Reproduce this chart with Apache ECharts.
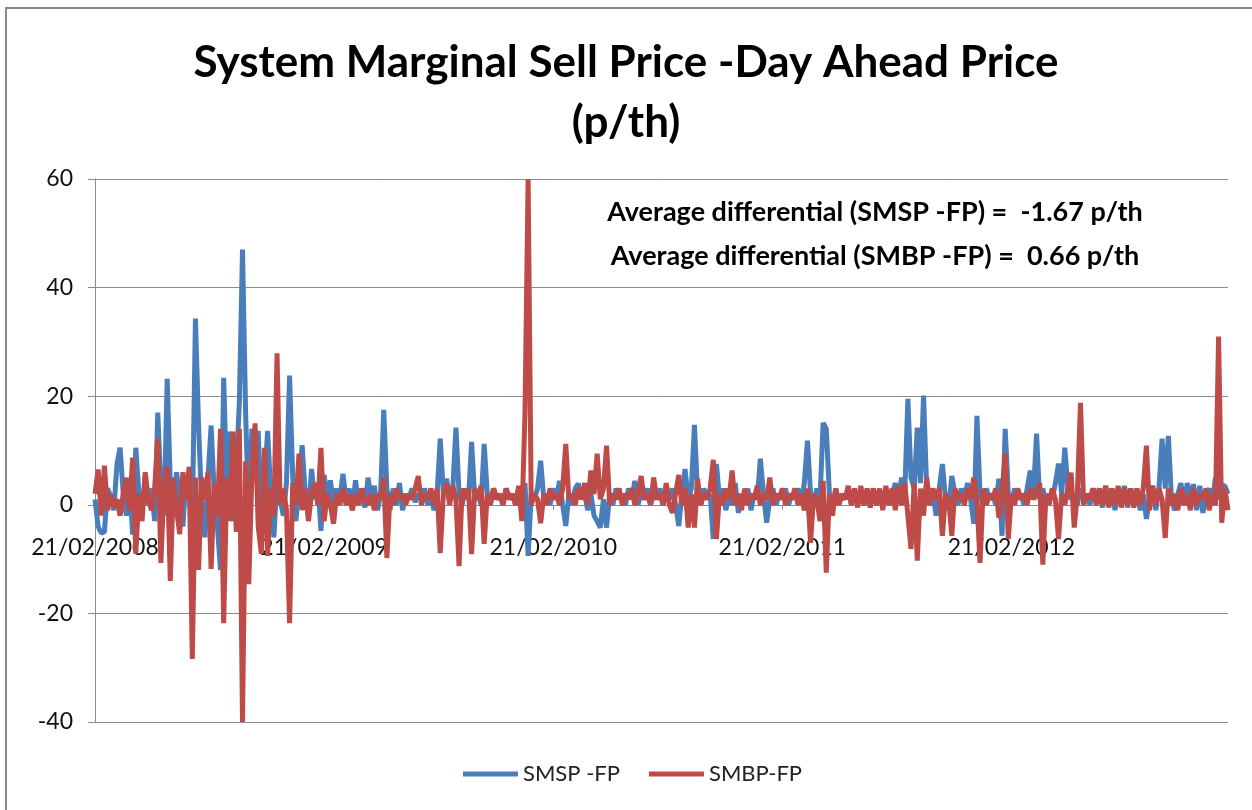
<!DOCTYPE html>
<html>
<head>
<meta charset="utf-8">
<script src="https://cdn.jsdelivr.net/npm/echarts@6/dist/echarts.min.js"></script>
<style>
  html, body { margin: 0; padding: 0; background: #fff; }
  #chart { width: 1252px; height: 810px; }
</style>
</head>
<body>
<div id="chart"></div>
<script>
// one sample every 5 days, starting 21/02/2008 (73 samples ~ 1 year)
var tickLabels = ['21/02/2008', '21/02/2009', '21/02/2010', '21/02/2011', '21/02/2012'];
var samplesPerYear = 73;

// SMSP - FP (p/th)
var smsp = [
  1,-4,-5.2,-5,3,1.5,-1,7.5,10.5,2,-2,4,-5.5,10.5,2,-1,5,0,3,-3,
  17,3,-2,23.2,4,-1,6,1,-4,5,2,-3,34.3,14.6,0,-6,5,14.6,2,-4,
  -12,23.4,3,13.5,-3,6,19,47,16.8,-3,14,5,13.6,-2,4,13.6,2,-6,5,1,
  -2,4,23.8,5,-3,3,11,2,-2,6.6,1,4,-4.8,5.5,1,4.5,0,3,1,5.7,
  1,3,-1,4.5,0,3,-0.5,5,1,3.5,-1,2,17.5,3,-1,3,0,4,-1,2,
  1,3,0.5,2,1,3,0,2,-1,2,12.2,2,4.8,1,3,14.2,2,0,3,1,
  11.6,1,2,0,11.2,2,0.5,3,1,2,0,3,1,2,0,3,1,4,-9.4,2,
  1,3,8.1,1,2,0,3,1,4.4,0,-3.9,2,0,3,3.9,1,2,-1,2,-2,
  -3,-4.2,1,-4.2,2,0,3,1,2,0,3,1,4.4,0,2,1,3,0,2,1,
  3,0,2,1,3,0,-3.9,2,6.6,1,3,14.7,2,0,3,1,2,-6.3,7.5,1,
  3,-1,2,0,4,-1.5,2,0,3,-1,2,1,8.5,2,-3.3,1,3,0,2,1,
  3,0,2,1,3,0,4,11.8,2,0,3,1,15.1,14,2,-1,3,0,2,1,
  3,0,2,1,3,0,2,1,3,0,2,1,3,0,2,4,1,5,2,19.5,
  5,3,14.2,4,20.1,3,0,2,-2,3,7.5,1,-1,5.3,2,0,3,1,4,1,
  -3.5,16.4,2,0,3,1,2,0,4.8,-5.7,14,2,0,3,1,2,0,3,6.3,2,
  13.1,1,3,0,2,1,4,7.6,2,10.5,3,1,2,0,3,1,2,0,3,1,
  3,-0.5,3.5,0,3,-1,3,0,3.5,-0.5,3,0,3,-1,2,-2.6,1,3.5,-1,3,
  12.2,3,12.7,1,-1,2,4,0,4,1,3.8,-1,3.5,-1.5,2,3,0,5,1,3.5,3.5,2
];

// SMBP - FP (p/th)
var smbp = [
  2,6.5,-2,7.2,-1,2,-0.5,1,-2,2,5,-1,8.7,-9,2,-3,6,1,-1,3,
  12.2,-10.7,4,7,-14,5,-1,-5.4,6,1,7,-28.4,5,-12,5,1,6,-11.8,4,-2,
  14,-21.8,5,-3,13.5,-5,14,-40,8,-14.6,6,15,-4,-9,10.5,-9.4,3,-2,27.9,0,
  3,-1,-21.8,4,0,9.4,-1,3,-3,2,4,0,10.5,-3,2,0,-3.5,2,0,3,
  0,2,-1,2,0,3,1,0,2,-1,2,1,5,-9.8,2,0,3,1,2,0,
  2,1,3,5.3,0,2,1,3,0,3,-8.9,2,4,0,3.5,1,-11.3,3,1,3,
  -9.1,3,1,3.5,-7.2,2,0,3,1,2,0,3,1,2,0,3.5,-3,16.8,60,0,
  2,1,-3.4,2,0,3,1,2,0,3,11.2,1,2,0,3,1,4,0,6.3,2,
  9.4,1,3,10.9,0,2,1,3,0,2,1,3,0,2,5.3,1,2,0,5,1,
  2,0,4,0,-1.5,2,5.5,0,3,-4.2,2,-4.2,4.8,0,2,1,3,8.3,-6.3,2,
  0,3,1,6.3,0,2,-1,3,0,2,1,3.5,0,2,1,5,0,2,1,3,
  0,2,1,3,0,2,-1,3,-7,2,1,-3,4.4,-12.5,2,-2,3,0,2,1,
  3.5,0,3,-0.5,3.5,0,3,-0.5,3,0,3,-1,3.5,0,3,-1,3.5,0,4,-2,
  -8.1,4,-10.3,3,-2,5,0,3,1,3,-5.7,2,1,-5.7,3,1,2,0,3,1,
  5,1,-10.7,3,0,2,1,3,-2.4,2,9.4,-6.3,2,0,3,1,2,0,3,1,
  2,4,-11,2,0,3,1,-6.3,2,0,3,5.9,-4.2,2,18.8,0,2,1,3,0,
  3,0,3.5,-0.5,3,0,3.5,-0.5,3.2,0,3,-0.5,3,0,3,10.9,-1,3.5,0,3,
  1,-6.1,3,0,2,-1,3,0,2,-1,3,0,2,1,3,-1,2,0,31,-3.3,3,-1
];

var notes = [
  'Average differential (SMSP -FP) =  -1.67 p/th',
  'Average differential (SMBP -FP) =  0.66 p/th'
];

var categories = [];
for (var i = 0; i < smsp.length; i++) categories.push(String(i));

function isYearTick(idx) {
  return idx % samplesPerYear === 0 && idx / samplesPerYear < tickLabels.length;
}

var font = 'Lato, "Open Sans", sans-serif';
var gridColor = '#8c8c8c';
var yMin = -40, yMax = 60;
var gridTop = 179, gridBottom = 88;
// the category axis crosses the value axis at 0 (as in the source chart)
var plotH = 810 - gridTop - gridBottom;
var zeroFromBottom = plotH * (0 - yMin) / (yMax - yMin);

var myChart = echarts.init(document.getElementById('chart'));
var option = {
  animation: false,
  backgroundColor: '#fff',
  title: {
    text: 'System Marginal Sell Price -Day Ahead Price\n(p/th)',
    left: 'center',
    top: 28,
    textStyle: {
      fontFamily: font,
      fontSize: 44,
      fontWeight: 'bold',
      color: '#000',
      lineHeight: 60
    }
  },
  legend: {
    left: 458,
    top: 758,
    itemWidth: 55,
    itemHeight: 5,
    itemGap: 29,
    icon: 'rect',
    textStyle: { fontFamily: font, fontSize: 22, color: '#222' },
    data: ['SMSP -FP', 'SMBP-FP']
  },
  grid: { left: 95, right: 24, top: gridTop, bottom: gridBottom },
  xAxis: {
    type: 'category',
    data: categories,
    boundaryGap: false,
    offset: -zeroFromBottom,
    axisLine: { onZero: false, lineStyle: { color: gridColor, width: 1 } },
    axisTick: {
      show: true,
      length: 5,
      interval: function (idx) { return isYearTick(idx); },
      lineStyle: { color: gridColor }
    },
    axisLabel: {
      interval: function (idx) { return isYearTick(idx); },
      formatter: function (v, idx) { return tickLabels[idx / samplesPerYear]; },
      fontFamily: font,
      fontSize: 23,
      color: '#111',
      margin: 31
    },
    splitLine: { show: false }
  },
  yAxis: {
    type: 'value',
    min: yMin,
    max: yMax,
    interval: 20,
    axisLine: { show: true, lineStyle: { color: gridColor, width: 1 } },
    axisTick: { show: true, length: 7, lineStyle: { color: gridColor } },
    axisLabel: { fontFamily: font, fontSize: 23, color: '#111', margin: 22 },
    splitLine: { lineStyle: { color: gridColor, width: 1 } }
  },
  graphic: [
    {
      type: 'rect',
      silent: true,
      shape: { x: 6, y: 8, width: 1400, height: 1000 },
      style: { fill: 'none', stroke: '#888', lineWidth: 2 }
    },
    {
      type: 'text',
      x: 875,
      y: 212,
      style: {
        text: notes[0], font: 'bold 27px ' + font, fill: '#000',
        textAlign: 'center', textVerticalAlign: 'middle'
      }
    },
    {
      type: 'text',
      x: 875,
      y: 256,
      style: {
        text: notes[1], font: 'bold 27px ' + font, fill: '#000',
        textAlign: 'center', textVerticalAlign: 'middle'
      }
    }
  ],
  series: [
    {
      name: 'SMSP -FP',
      type: 'line',
      data: smsp,
      showSymbol: false,
      color: '#4a7ebb',
      lineStyle: { width: 5, color: '#4a7ebb', join: 'bevel' }
    },
    {
      name: 'SMBP-FP',
      type: 'line',
      data: smbp,
      showSymbol: false,
      color: '#be4b48',
      lineStyle: { width: 5, color: '#be4b48', join: 'bevel' }
    }
  ]
};
myChart.setOption(option);
</script>
</body>
</html>
